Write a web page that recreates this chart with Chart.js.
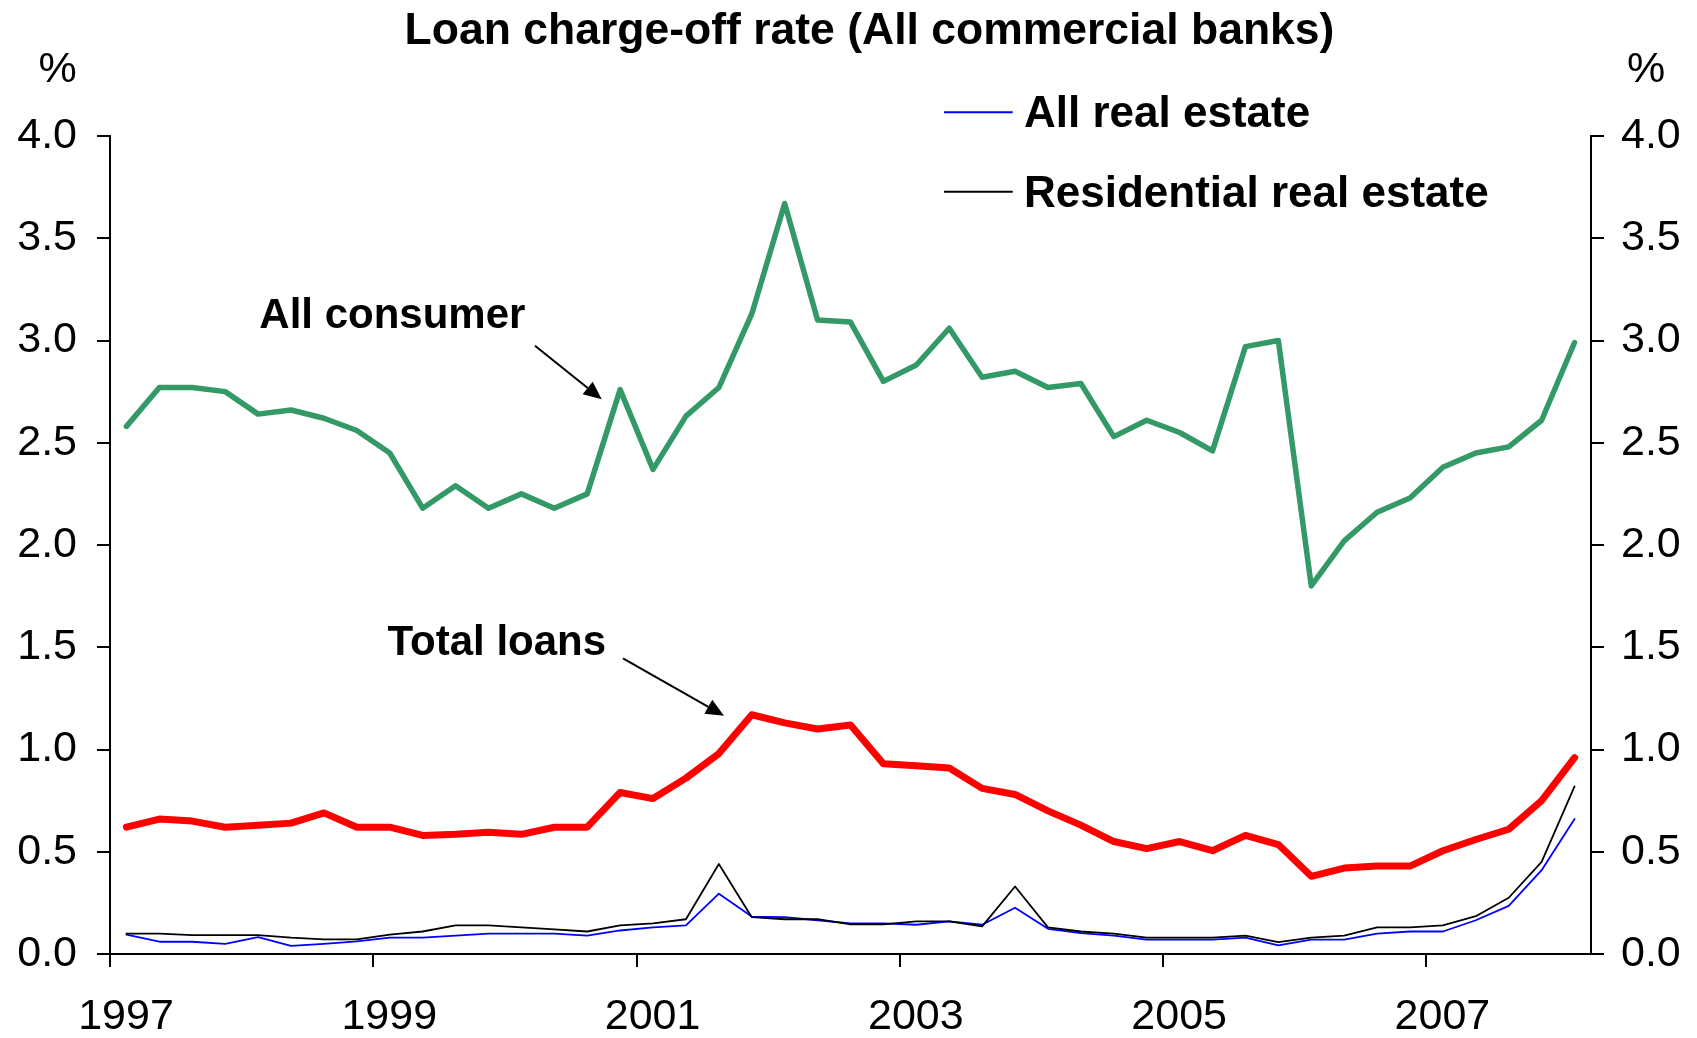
<!DOCTYPE html>
<html>
<head>
<meta charset="utf-8">
<script src="https://cdn.jsdelivr.net/npm/chart.js@4/dist/chart.umd.min.js"></script>
<style>
html,body{margin:0;padding:0;background:#fff;}
#wrap{width:1697px;height:1038px;position:relative;}
</style>
</head>
<body>
<div id="wrap"><canvas id="c" width="1697" height="1038"></canvas></div>
<script>
// ---- Data (quarterly, % charge-off rate) ----
const years = [1997,1998,1999,2000,2001,2002,2003,2004,2005,2006,2007,2008];
const quarters = [];
years.forEach(y => { for (let q = 1; q <= 4; q++) { if (y < 2008 || q === 1) quarters.push(y + ' Q' + q); } });

const allConsumer = [2.58,2.77,2.77,2.75,2.64,2.66,2.62,2.56,2.45,2.18,2.29,2.18,2.25,2.18,2.25,2.76,
  2.37,2.63,2.77,3.13,3.67,3.10,3.09,2.80,2.88,3.06,2.82,2.85,2.77,2.79,2.53,2.61,2.55,2.46,2.97,3.00,
  1.80,2.02,2.16,2.23,2.38,2.45,2.48,2.61,2.99];
const totalLoans = [0.62,0.66,0.65,0.62,0.63,0.64,0.69,0.62,0.62,0.58,0.585,0.595,0.585,0.62,0.62,0.79,
  0.76,0.86,0.98,1.17,1.13,1.10,1.12,0.93,0.92,0.91,0.81,0.78,0.70,0.63,0.55,0.515,0.55,0.505,0.58,0.535,
  0.38,0.42,0.43,0.43,0.505,0.56,0.61,0.75,0.96];
const allRealEstate = [0.095,0.06,0.06,0.05,0.083,0.04,0.05,0.062,0.08,0.08,0.09,0.10,0.10,0.10,0.09,0.115,
  0.13,0.14,0.295,0.183,0.18,0.165,0.15,0.15,0.143,0.16,0.143,0.226,0.123,0.102,0.09,0.07,0.07,0.07,0.08,0.042,
  0.07,0.07,0.10,0.11,0.11,0.165,0.235,0.41,0.66];
const residential = [0.10,0.10,0.092,0.092,0.092,0.08,0.072,0.072,0.095,0.11,0.14,0.14,0.13,0.12,0.11,0.14,
  0.15,0.17,0.44,0.18,0.17,0.17,0.145,0.145,0.16,0.16,0.135,0.33,0.13,0.11,0.10,0.08,0.08,0.08,0.09,0.058,
  0.08,0.09,0.13,0.13,0.14,0.185,0.275,0.45,0.82];

const xTickYears = [1997,1999,2001,2003,2005,2007];
const yTickValues = [0,0.5,1,1.5,2,2.5,3,3.5,4];

const titleText = 'Loan charge-off rate (All commercial banks)';
const legendLabels = ['All real estate', 'Residential real estate'];
const annotationLabels = ['All consumer', 'Total loans'];

// quarter label -> position on a continuous year axis (centre of quarter)
function qx(label) {
  const [y, q] = label.split(' Q');
  return Number(y) + (Number(q) - 0.5) / 4;
}
function pts(values) { return values.map((v, i) => ({ x: qx(quarters[i]), y: v })); }

const FAM = '"Liberation Sans", Arial, Helvetica, sans-serif';

const tickFont = { family: FAM, size: 43 };

function axisGrid() {
  return { drawOnChartArea: false, drawTicks: true, tickLength: 13, tickWidth: 2, tickColor: '#000', color: '#000', lineWidth: 2 };
}

function arrow(ctx, x1, y1, x2, y2) {
  const ang = Math.atan2(y2 - y1, x2 - x1);
  const L = 18, W = 8;
  const bx = x2 - L * Math.cos(ang), by = y2 - L * Math.sin(ang);
  ctx.beginPath();
  ctx.moveTo(x1, y1);
  ctx.lineTo(bx, by);
  ctx.lineWidth = 2;
  ctx.strokeStyle = '#000';
  ctx.stroke();
  ctx.beginPath();
  ctx.moveTo(x2, y2);
  ctx.lineTo(bx + W * Math.sin(ang), by - W * Math.cos(ang));
  ctx.lineTo(bx - W * Math.sin(ang), by + W * Math.cos(ang));
  ctx.closePath();
  ctx.fillStyle = '#000';
  ctx.fill();
}

const deco = {
  id: 'deco',
  afterDraw(chart) {
    const ctx = chart.ctx;
    ctx.save();
    ctx.fillStyle = '#000';
    ctx.textBaseline = 'alphabetic';
    // title
    ctx.font = 'bold 44.5px ' + FAM;
    ctx.textAlign = 'center';
    ctx.fillText(titleText, 869.5, 43.5);
    // % units
    ctx.font = '43px ' + FAM;
    ctx.fillText('%', 57.5, 82);
    ctx.fillText('%', 1646, 82);
    // legend
    ctx.textAlign = 'left';
    ctx.font = 'bold 44px ' + FAM;
    ctx.lineWidth = 2;
    ctx.strokeStyle = '#0000ff';
    ctx.beginPath(); ctx.moveTo(944, 112.3); ctx.lineTo(1012.7, 112.3); ctx.stroke();
    ctx.fillText(legendLabels[0], 1024, 126.7);
    ctx.strokeStyle = '#000';
    ctx.beginPath(); ctx.moveTo(944, 191.7); ctx.lineTo(1012.7, 191.7); ctx.stroke();
    ctx.fillText(legendLabels[1], 1024, 206.7);
    // annotations
    ctx.font = 'bold 42px ' + FAM;
    ctx.fillText(annotationLabels[0], 259.3, 328.3);
    arrow(ctx, 535, 345.7, 601.7, 399.3);
    ctx.fillStyle = '#000';
    ctx.fillText(annotationLabels[1], 387.5, 655);
    arrow(ctx, 623, 658.3, 724, 715.7);
    ctx.restore();
  }
};

const yCommon = (pos, pad, w) => ({
  type: 'linear',
  position: pos,
  min: 0,
  max: 4,
  afterBuildTicks: s => { s.ticks = yTickValues.map(v => ({ value: v })); },
  ticks: { callback: v => Number(v).toFixed(1), font: tickFont, color: '#000', padding: pad },
  grid: axisGrid(),
  border: { display: true, color: '#000', width: 2 },
  afterFit: s => { s.width = w; }
});

new Chart(document.getElementById('c'), {
  type: 'line',
  data: {
    datasets: [
      { label: legendLabels[1], data: pts(residential), borderColor: '#000000', borderWidth: 1.8, order: 1 },
      { label: legendLabels[0], data: pts(allRealEstate), borderColor: '#0000ff', borderWidth: 1.8, order: 2 },
      { label: annotationLabels[1], data: pts(totalLoans), borderColor: '#ff0000', borderWidth: 7, order: 3 },
      { label: annotationLabels[0], data: pts(allConsumer), borderColor: '#339966', borderWidth: 5.5, order: 4 }
    ]
  },
  options: {
    responsive: false,
    animation: false,
    devicePixelRatio: 1,
    layout: { padding: { top: 136, left: 0, right: 0, bottom: 0 } },
    elements: {
      point: { radius: 0, hoverRadius: 0 },
      line: { tension: 0, fill: false, borderCapStyle: 'round', borderJoinStyle: 'round' }
    },
    plugins: { legend: { display: false }, title: { display: false }, tooltip: { enabled: false } },
    scales: {
      x: {
        type: 'linear',
        min: 1997,
        max: 2008.25,
        afterBuildTicks: s => { s.ticks = xTickYears.map(v => ({ value: v })); },
        ticks: { callback: v => String(v), font: tickFont, color: '#000', padding: 24, labelOffset: 16, maxRotation: 0, autoSkip: false },
        grid: axisGrid(),
        border: { display: true, color: '#000', width: 2 },
        afterFit: s => { s.height = 84; }
      },
      y: yCommon('left', 20, 110),
      y2: yCommon('right', 17, 106)
    }
  },
  plugins: [deco]
});
</script>
</body>
</html>
